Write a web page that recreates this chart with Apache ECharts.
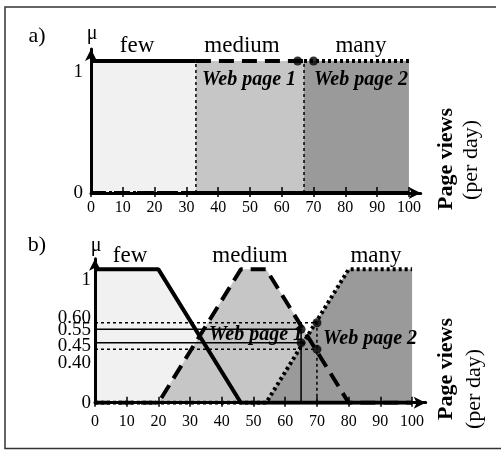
<!DOCTYPE html>
<html>
<head>
<meta charset="utf-8">
<script src="https://cdn.jsdelivr.net/npm/echarts@6/dist/echarts.min.js"></script>
<style>
  html, body { margin: 0; padding: 0; background: #fff; }
  #chart { width: 501px; height: 451px; }
</style>
</head>
<body>
<div id="chart"></div>
<script>
// page views axis ticks
const viewTicks = [0, 10, 20, 30, 40, 50, 60, 70, 80, 90, 100];

// a) crisp sets, [page views, membership]
const crispFew = [[0, 1], [33, 1], [33, 0], [100, 0]];
const crispMedium = [[0, 0], [33, 0], [33, 1], [67, 1], [67, 0], [100, 0]];
const crispMany = [[0, 0], [67, 0], [67, 1], [100, 1]];
const crispBounds = [33, 67];

// b) fuzzy sets
const fuzzyFew = [[0, 1], [20, 1], [46, 0], [100, 0]];
const fuzzyMedium = [[0, 0], [20, 0], [46, 1], [54, 1], [80, 0], [100, 0]];
const fuzzyMany = [[0, 0], [54, 0], [80, 1], [100, 1]];

// the two web pages
const webPages = ['Web page 1', 'Web page 2'];
const pageViews = [65, 70];
const crispMu = [1, 1];
const fuzzyMuMedium = [0.55, 0.40];
const fuzzyMuMany = [0.45, 0.60];

// y tick labels
const muTicksA = [0, 1];
const muTicksB = [0, 0.40, 0.45, 0.55, 0.60, 1];
const muShiftA = [0, 11];
const muShiftB = [0, 14, 3, 1, -5, 11];

const SERIF = "'Liberation Serif', 'DejaVu Serif', serif";

// drop the vertical jumps so only the flat parts get the thick line
function noJumps(points) {
  const out = [];
  points.forEach((p, i) => {
    if (i > 0 && points[i - 1][0] === p[0]) out.push([p[0], '-']);
    out.push(p);
  });
  return out;
}

function muLabel(values, shifts, margin) {
  const rich = {};
  values.forEach((v, i) => {
    const s = shifts[i];
    rich['l' + i] = {
      fontSize: 19, fontFamily: SERIF, color: '#000',
      padding: s >= 0 ? [2 * s, 0, 0, 0] : [0, 0, -2 * s, 0]
    };
  });
  return {
    customValues: values,
    margin: margin,
    rich: rich,
    formatter: (v) => {
      const i = values.findIndex((x) => Math.abs(x - v) < 1e-6);
      const txt = (v === 0 || v === 1) ? String(v) : v.toFixed(2);
      return '{l' + i + '|' + txt + '}';
    }
  };
}

function xAxes(gridIndex, max, margin) {
  return [
    {
      type: 'value', gridIndex, min: 0, max, position: 'bottom', z: 3,
      axisLine: { onZero: false, lineStyle: { color: '#000', width: 3 },
        symbol: ['none', 'arrow'], symbolSize: [9, 12] },
      axisTick: { customValues: viewTicks, length: 4, lineStyle: { color: '#000', width: 1.5 } },
      axisLabel: { customValues: viewTicks, margin, fontSize: 16, fontFamily: SERIF, color: '#000' },
      splitLine: { show: false }
    },
    {
      type: 'value', gridIndex, min: 0, max, position: 'bottom', z: 3,
      axisLine: { show: false, onZero: false },
      axisTick: { customValues: viewTicks, inside: true, length: 6, lineStyle: { color: '#000', width: 1.5 } },
      axisLabel: { show: false },
      splitLine: { show: false }
    }
  ];
}

function yAxis(gridIndex, max, ticks, shifts, margin) {
  return {
    type: 'value', gridIndex, min: 0, max, z: 3,
    axisLine: { show: true, onZero: false, lineStyle: { color: '#000', width: 3 },
      symbol: ['none', 'arrow'], symbolSize: [9, 12] },
    axisTick: { show: false },
    axisLabel: muLabel(ticks, shifts, margin),
    splitLine: { show: false }
  };
}

function fill(axis, data, color) {
  return {
    type: 'line', xAxisIndex: axis.x, yAxisIndex: axis.y, data,
    symbol: 'none', silent: true, z: -1,
    lineStyle: { width: 0, opacity: 0 }, areaStyle: { color, opacity: 1 }
  };
}

function curve(axis, data, type) {
  return {
    type: 'line', xAxisIndex: axis.x, yAxisIndex: axis.y, data: noJumps(data),
    symbol: 'none', silent: true, z: 4, connectNulls: false,
    lineStyle: { color: '#000', width: 4, type, cap: 'butt' }
  };
}

function guide(axis, data, type) {
  return {
    type: 'line', xAxisIndex: axis.x, yAxisIndex: axis.y, data,
    symbol: 'none', silent: true, z: 2, connectNulls: false,
    lineStyle: { color: '#000', width: 1.5, type }
  };
}

function dots(axis, data) {
  return {
    type: 'scatter', xAxisIndex: axis.x, yAxisIndex: axis.y, data,
    symbol: 'circle', symbolSize: 9, silent: true, z: 5,
    itemStyle: { color: '#000' }
  };
}

const A = { x: 0, y: 0 };
const B = { x: 2, y: 1 };
const DASH = [15, 8];
const DOT = [3, 3];
const FEW = '#f1f1f1', MED = '#c6c6c6', MANY = '#9a9a9a';

// a) boundaries between crisp sets
const boundLines = [];
crispBounds.forEach((b) => { boundLines.push([b, 0], [b, 1], [b, '-']); });

// b) guide lines for the two pages
function pageGuide(i) {
  const x = pageViews[i];
  const mus = [fuzzyMuMedium[i], fuzzyMuMany[i]];
  const out = [];
  mus.forEach((m) => { out.push([0, m], [x, m], [x, '-']); });
  out.push([x, 0], [x, Math.max(...mus)]);
  return out;
}

function text(str, x, y, font, extra) {
  return Object.assign({
    type: 'text', x, y, z: 3,
    style: { text: str, font, fill: '#000', align: 'center', verticalAlign: 'middle' }
  }, extra || {});
}

const chart = echarts.init(document.getElementById('chart'), null, { renderer: 'canvas' });

const option = {
  animation: false,
  backgroundColor: '#fff',
  grid: [
    { left: 91, top: 49, width: 329.7, height: 144, outerBoundsMode: 'none' },
    { left: 95, top: 258.7, width: 330.7, height: 144, outerBoundsMode: 'none' }
  ],
  xAxis: [...xAxes(0, 103.7, 7), ...xAxes(1, 104.3, 11)],
  yAxis: [
    yAxis(0, 1.091, muTicksA, muShiftA, 8),
    yAxis(1, 1.08, muTicksB, muShiftB, 4)
  ],
  series: [
    // a)
    fill(A, [[0, 1], [33, 1], [33, 0]], FEW),
    fill(A, [[33, 0], [33, 1], [67, 1], [67, 0]], MED),
    fill(A, [[67, 0], [67, 1], [100, 1], [100, 0]], MANY),
    guide(A, boundLines, DOT),
    curve(A, crispFew, 'solid'),
    curve(A, crispMedium, DASH),
    curve(A, crispMany, DOT),
    dots(A, pageViews.map((x, i) => [x, crispMu[i]])),
    // b)
    fill(B, fuzzyFew, FEW),
    fill(B, fuzzyMedium, MED),
    fill(B, fuzzyMany, MANY),
    guide(B, pageGuide(0), 'solid'),
    guide(B, pageGuide(1), DOT),
    curve(B, fuzzyFew, 'solid'),
    curve(B, fuzzyMedium, DASH),
    curve(B, fuzzyMany, DOT),
    dots(B, pageViews.map((x, i) => [x, fuzzyMuMedium[i]]).concat(
      pageViews.map((x, i) => [x, fuzzyMuMany[i]])))
  ],
  graphic: [
    {
      type: 'polyline', z: 10, silent: true,
      shape: { points: [[496, 7], [5, 7], [5, 448.5], [501, 448.5]] },
      style: { stroke: '#333', lineWidth: 1.5, fill: null }
    },
    text('a)', 37, 36, '22px ' + SERIF),
    text('b)', 37, 245, '22px ' + SERIF),
    text('μ', 92, 34, '20px ' + SERIF),
    text('μ', 96, 246, '20px ' + SERIF),
    text('few', 137, 46, '23px ' + SERIF),
    text('medium', 242, 46, '23px ' + SERIF),
    text('many', 361, 46, '23px ' + SERIF),
    text('few', 130, 256, '23px ' + SERIF),
    text('medium', 250, 256, '23px ' + SERIF),
    text('many', 376, 256, '23px ' + SERIF),
    text(webPages[0], 249, 80, 'italic bold 20px ' + SERIF),
    text(webPages[1], 361, 80, 'italic bold 20px ' + SERIF),
    text(webPages[0], 256, 335, 'italic bold 20px ' + SERIF),
    text(webPages[1], 370, 339, 'italic bold 20px ' + SERIF),
    text('Page views', 446, 159, 'bold 22px ' + SERIF, { rotation: Math.PI / 2 }),
    text('(per day)', 471, 160, '22px ' + SERIF, { rotation: Math.PI / 2 }),
    text('Page views', 446, 369, 'bold 22px ' + SERIF, { rotation: Math.PI / 2 }),
    text('(per day)', 474, 389, '22px ' + SERIF, { rotation: Math.PI / 2 })
  ]
};

chart.setOption(option);
</script>
</body>
</html>
